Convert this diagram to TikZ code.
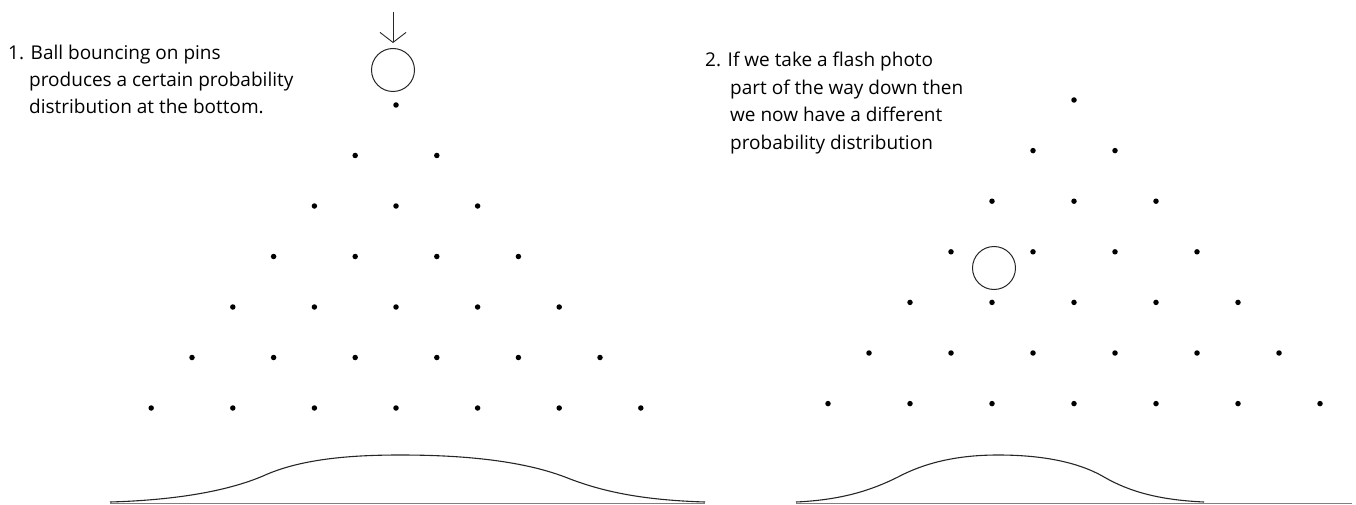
\documentclass[tikz,border=0pt]{standalone}
\usepackage{fontspec}
\setmainfont{Open Sans}
\usetikzlibrary{arrows.meta}
\begin{document}
\begin{tikzpicture}[x=1pt,y=-1pt,
  pin/.style={circle,fill=black,inner sep=0pt,minimum size=5.5pt},
  ball/.style={circle,draw=black!85,line width=1pt,inner sep=0pt,minimum size=43pt},
  txt/.style={anchor=base west,inner sep=0pt,font=\fontsize{19}{22}\selectfont,text=black},
  curve/.style={line width=1.1pt,black!85},
  base/.style={line width=0.8pt,black!50}]
\useasboundingbox (0,0) rectangle (1356,505);
% left text
\node[txt] (t1a) at (8,60) {1. Ball bouncing on pins};
\node[txt] (t1b) at (29,87) {produces a certain probability};
\node[txt] (t1c) at (29,114) {distribution at the bottom.};
% right text
\node[txt] (t2a) at (705,67) {2. If we take a flash photo};
\node[txt] (t2b) at (730,95) {part of the way down then};
\node[txt] (t2c) at (730,122) {we now have a different};
\node[txt] (t2d) at (730,150) {probability distribution};
% left pins
\foreach \r in {0,...,6}{
  \foreach \k in {0,...,\r}{
    \node[pin] (L-\r-\k) at ({396-40.8*\r+81.6*\k},{105+50.5*\r}) {};
  }
}
% right pins
\foreach \r in {0,...,6}{
  \foreach \k in {0,...,\r}{
    \node[pin] (R-\r-\k) at ({1074-41*\r+82*\k},{100+50.6*\r}) {};
  }
}
% balls
\node[ball] (ballL) at (393,70) {};
\node[ball] (ballR) at (994,268) {};
\coordinate (arrowstart) at (393,12);
\draw[line width=0.9pt,black!85,shorten >=5pt,-{Straight Barb[length=10pt,width=26pt,line width=0.9pt]}] (arrowstart) -- (ballL.north);
% baselines
\coordinate (bl1) at (110,503); \coordinate (bl2) at (705,503);
\coordinate (br1) at (796,503); \coordinate (br2) at (1352,503);
\draw[base] (bl1) -- (bl2);
\draw[base] (br1) -- (br2);
% curves
\draw[curve] (110,502) .. controls (180,500) and (230,490) .. (263,476)
  .. controls (300,459) and (350,455) .. (400,455)
  .. controls (460,455) and (520,460) .. (565,477)
  .. controls (600,491) and (640,500) .. (705,502);
\draw[curve] (796,502) .. controls (840,500) and (870,491) .. (898,477)
  .. controls (930,460) and (965,455) .. (998,455)
  .. controls (1035,455) and (1075,460) .. (1104,477)
  .. controls (1130,492) and (1160,500) .. (1204,502);
\end{tikzpicture}
\end{document}
